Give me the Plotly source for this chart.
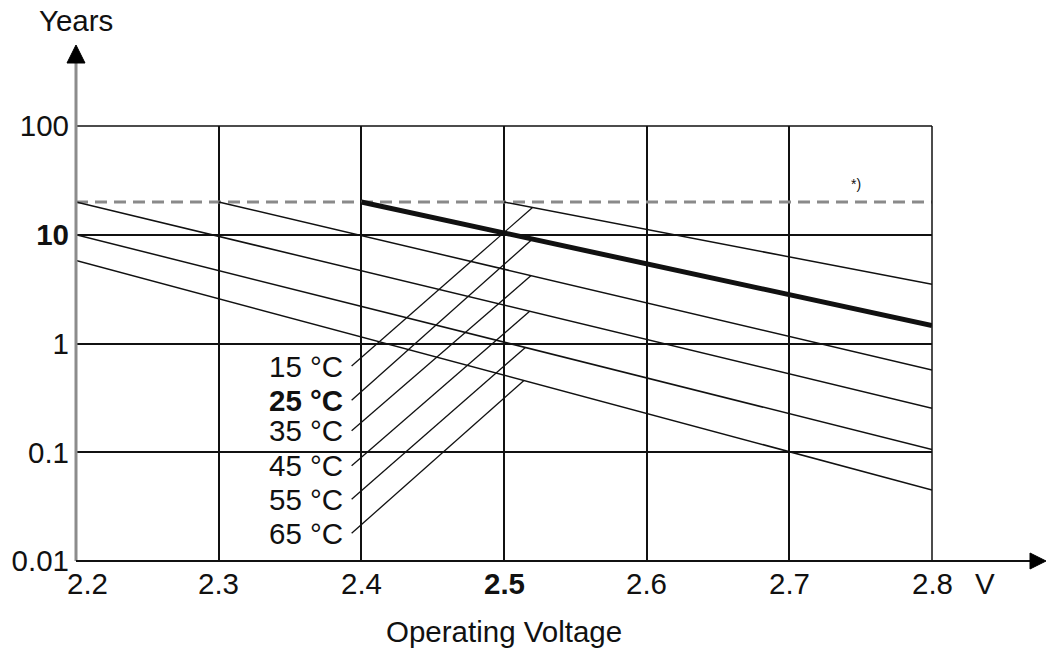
import numpy as np
import plotly.graph_objects as go

# Service-life curves: straight lines on a log scale, one per ambient temperature
temp_labels = ["15 °C", "25 °C", "35 °C", "45 °C", "55 °C", "65 °C"]
start_voltage = [2.5, 2.4, 2.3, 2.2, 2.2, 2.2]
start_years = [20, 20, 20, 20, 10, 5.8]
end_voltage = [2.8, 2.8, 2.8, 2.8, 2.8, 2.8]
end_years = [3.5, 1.46, 0.57, 0.254, 0.106, 0.045]

# Upper life limit (dashed line, marked *)
cap_voltage = [2.2, 2.8]
cap_years = [20, 20]

# Temperature labels and the leader lines running to each curve
label_voltage = 2.3885
leader_start_voltage = 2.3932
label_years = [0.62, 0.30, 0.158, 0.075, 0.037, 0.018]
leader_end_voltage = [2.520, 2.520, 2.519, 2.518, 2.515, 2.514]

x_ticks = [2.2, 2.3, 2.4, 2.5, 2.6, 2.7, 2.8]
x_tick_text = ["2.2", "2.3", "2.4", "<b>2.5</b>", "2.6", "2.7", "2.8"]
y_ticks = [0.01, 0.1, 1, 10, 100]
y_tick_text = ["0.01", "0.1", "1", "<b>10</b>", "100"]

FONT = "Liberation Sans, Arial, sans-serif"
FS = 29.5
INK = "#111111"

fig = go.Figure()

# dashed life cap
fig.add_trace(go.Scatter(
    x=cap_voltage, y=cap_years, mode="lines",
    line=dict(color="#8a8a8a", width=3, dash="12px,7px"),
    hoverinfo="skip", showlegend=False))

# curves
for i, name in enumerate(temp_labels):
    bold = name.startswith("25")
    fig.add_trace(go.Scatter(
        x=[start_voltage[i], end_voltage[i]],
        y=[start_years[i], end_years[i]],
        mode="lines", name=name,
        line=dict(color=INK, width=5 if bold else 1.5),
        showlegend=False))

# leader lines from the labels to the curves
for i, name in enumerate(temp_labels):
    ve = leader_end_voltage[i]
    ye = 10 ** np.interp(ve, [start_voltage[i], end_voltage[i]],
                         [np.log10(start_years[i]), np.log10(end_years[i])])
    fig.add_trace(go.Scatter(
        x=[leader_start_voltage, ve], y=[label_years[i], ye],
        mode="lines", line=dict(color=INK, width=1.3),
        hoverinfo="skip", showlegend=False))

# temperature labels
for i, name in enumerate(temp_labels):
    bold = name.startswith("25")
    fig.add_annotation(
        x=label_voltage, y=np.log10(label_years[i]), xref="x", yref="y",
        text=f"<b>{name}</b>" if bold else name, showarrow=False,
        xanchor="right", yanchor="middle",
        font=dict(family=FONT, size=FS, color=INK))

fig.add_annotation(x=2.747, y=np.log10(29.5), xref="x", yref="y", text="*)",
                   showarrow=False, font=dict(family=FONT, size=14, color=INK))

# voltage tick labels (the first one sits right of the corner)
for v, t in zip(x_ticks, x_tick_text):
    fig.add_annotation(x=v, y=0, xref="x", yref="paper", text=t, showarrow=False,
                       xanchor="center", yanchor="middle", yshift=-22,
                       xshift=11 if v == x_ticks[0] else 0,
                       font=dict(family=FONT, size=FS, color=INK))

# axis titles
fig.add_annotation(x=0, y=1.2414, xref="paper", yref="paper", text="Years",
                   showarrow=False, xanchor="center", yanchor="middle",
                   font=dict(family=FONT, size=FS, color=INK))
fig.add_annotation(x=0.5, y=-0.1632, xref="paper", yref="paper", text="Operating Voltage",
                   showarrow=False, xanchor="center", yanchor="middle",
                   font=dict(family=FONT, size=FS, color=INK))
fig.add_annotation(x=1.0619, y=-0.0506, xref="paper", yref="paper", text="V",
                   showarrow=False, xanchor="center", yanchor="middle",
                   font=dict(family=FONT, size=FS, color=INK))

shapes = [
    # break in the 0.1 grid line behind the labels
    dict(type="rect", xref="x", yref="y", x0=2.3304, x1=2.3932,
         y0=np.log10(0.092), y1=np.log10(0.108),
         fillcolor="white", line=dict(width=0), layer="above"),
    # top and right frame lines (100 years, 2.8 V)
    dict(type="line", xref="paper", yref="paper", x0=0, x1=1, y0=1, y1=1,
         line=dict(color=INK, width=1.5), layer="above"),
    dict(type="line", xref="paper", yref="paper", x0=1, x1=1, y0=0, y1=1,
         line=dict(color=INK, width=1.5), layer="above"),
    # left axis with arrow
    dict(type="line", xref="paper", yref="paper", x0=0, x1=0, y0=0, y1=1.1448,
         line=dict(color="#8c8c8c", width=3), layer="above"),
    dict(type="path", xref="paper", yref="paper",
         path="M -0.01051,1.1448 L 0,1.1862 L 0.01051,1.1448 Z",
         fillcolor="black", line=dict(color="black", width=1), layer="above"),
    # bottom axis with arrow
    dict(type="line", xref="paper", yref="paper", x0=0, x1=1.1145, y0=0, y1=0,
         line=dict(color=INK, width=2), layer="above"),
    dict(type="path", xref="paper", yref="paper",
         path="M 1.1145,0.01839 L 1.1332,0 L 1.1145,-0.01839 Z",
         fillcolor="black", line=dict(color="black", width=1), layer="above"),
]

fig.update_layout(
    width=1046, height=652,
    margin=dict(l=76, r=114, t=126, b=91),
    paper_bgcolor="white", plot_bgcolor="white",
    font=dict(family=FONT, size=FS, color=INK),
    shapes=shapes,
    xaxis=dict(range=[2.2, 2.8], tickmode="array", tickvals=x_ticks,
               showticklabels=False,
               showgrid=True, gridcolor=INK, gridwidth=1.5, zeroline=False,
               showline=False, ticks=""),
    yaxis=dict(type="log", range=[-2, 2], tickmode="array", tickvals=y_ticks,
               ticktext=y_tick_text, showgrid=True, gridcolor=INK, gridwidth=1.5,
               zeroline=False, showline=False,
               ticks="", ticklabelstandoff=6,
               tickfont=dict(family=FONT, size=FS, color=INK)),
)

fig.write_html("out.html")
